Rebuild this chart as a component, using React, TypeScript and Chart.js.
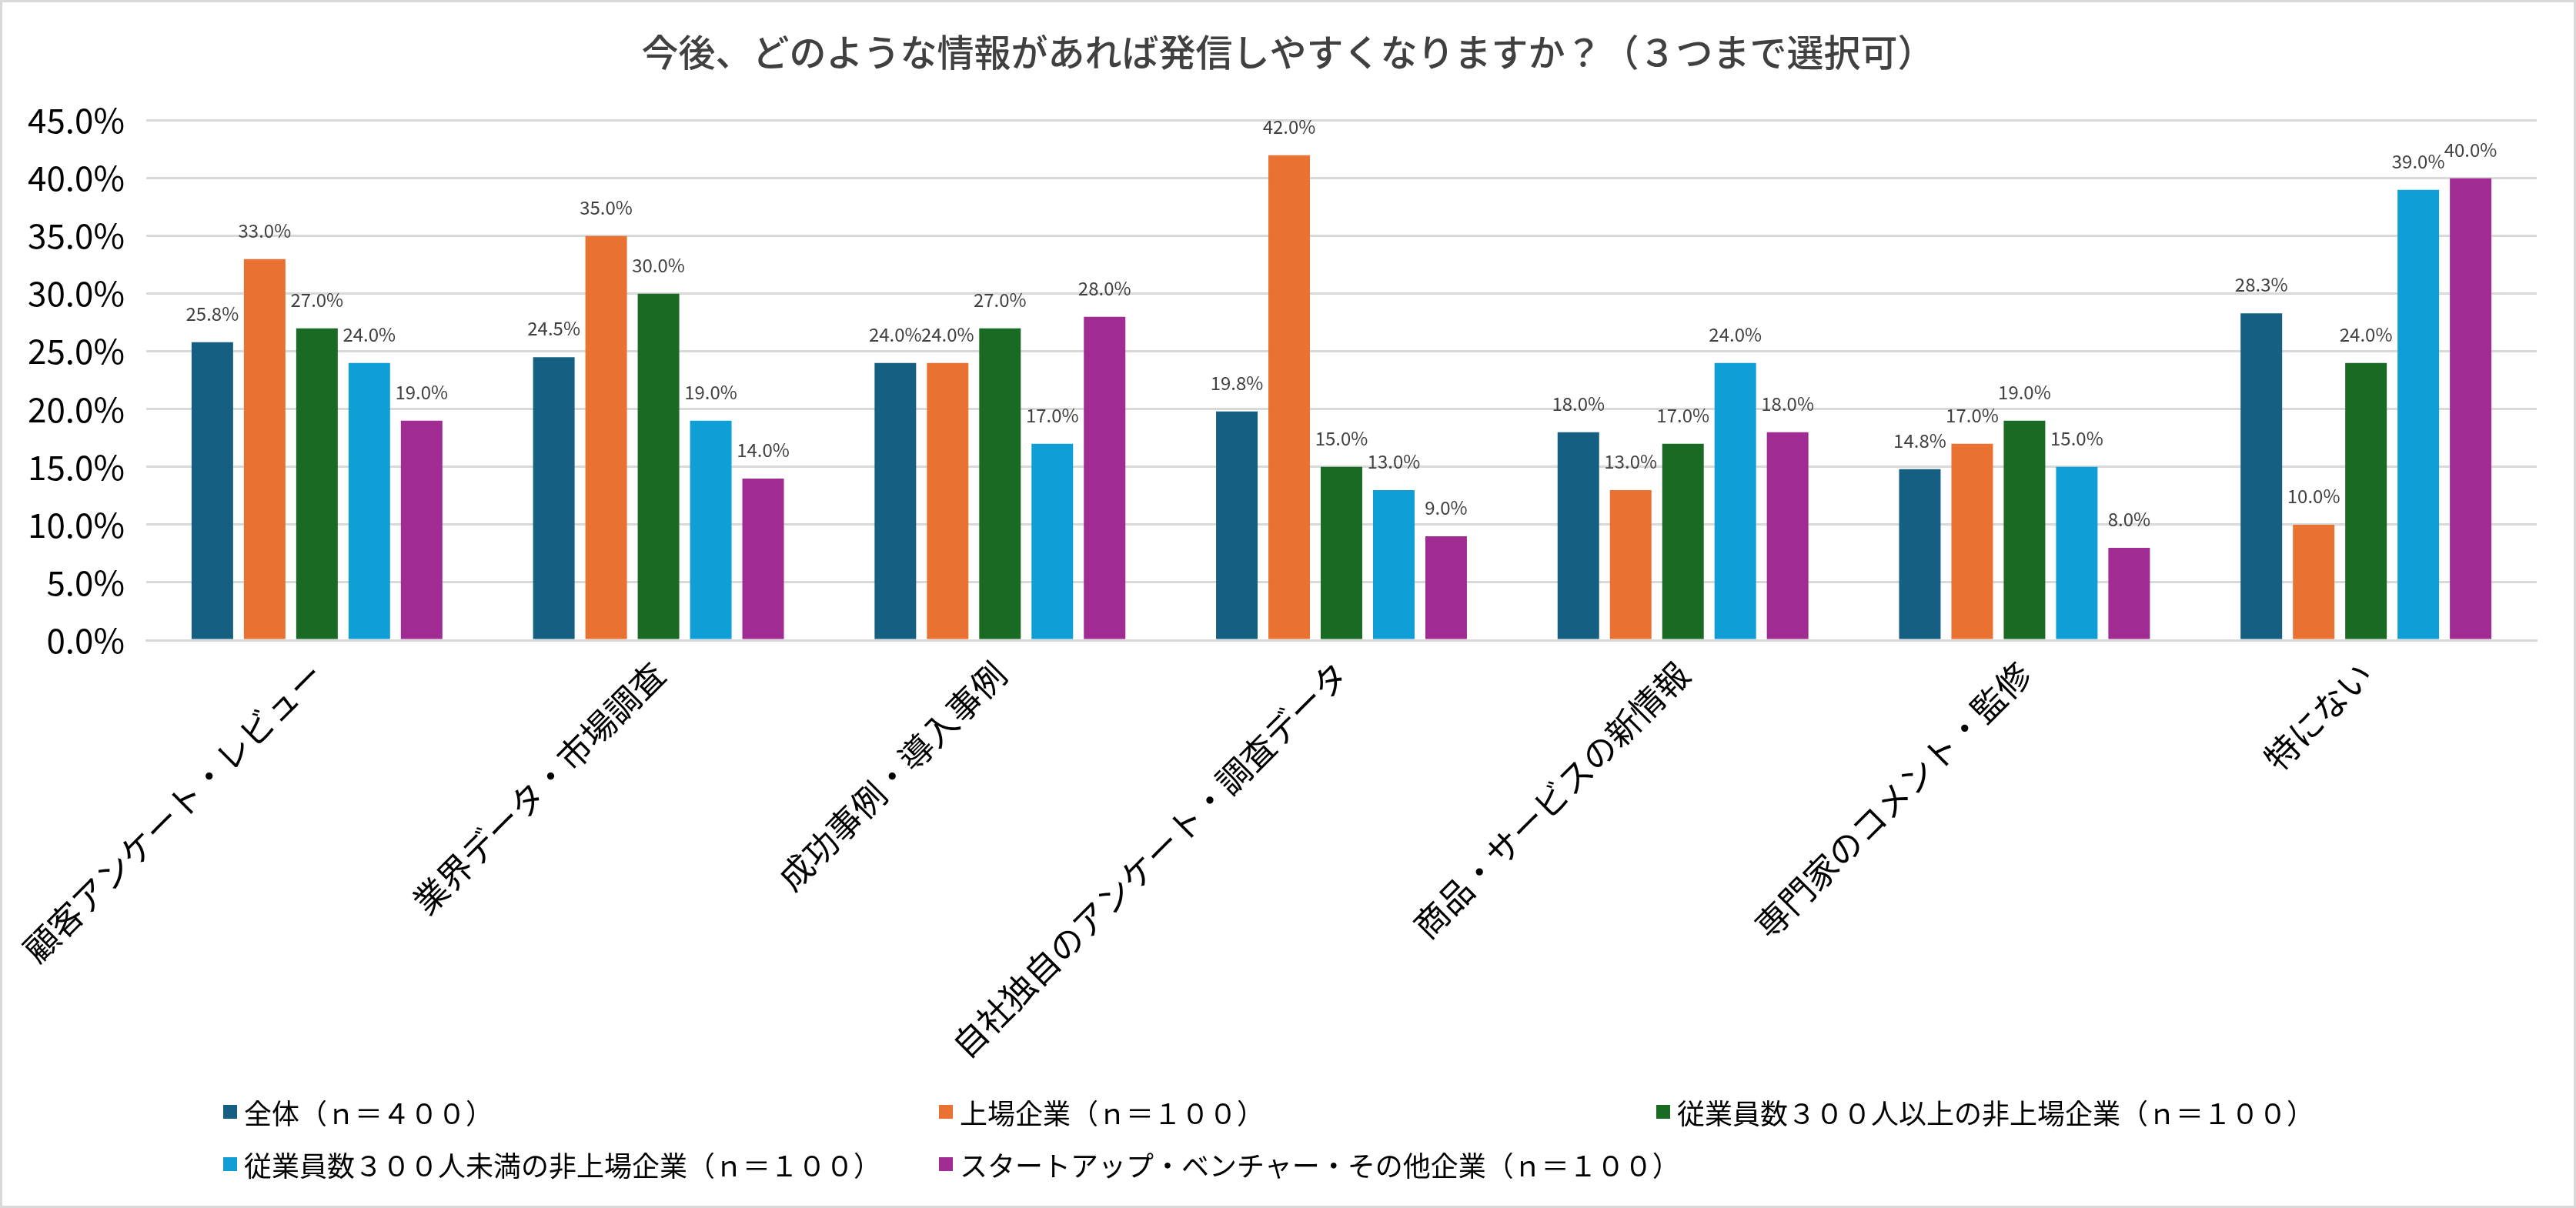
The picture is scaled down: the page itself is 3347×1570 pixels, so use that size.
import React, { useEffect, useRef } from "react";
import { Chart, registerables } from "chart.js";

Chart.register(...registerables);

const FONT = '"Noto Sans CJK JP", "Noto Sans", sans-serif';

const titleText =
  "今後、どのような情報があれば発信しやすくなりますか？（３つまで選択可）";

const categories = [
  "顧客アンケート・レビュー",
  "業界データ・市場調査",
  "成功事例・導入事例",
  "自社独自のアンケート・調査データ",
  "商品・サービスの新情報",
  "専門家のコメント・監修",
  "特にない",
];

const seriesNames = [
  "全体（ｎ＝４００）",
  "上場企業（ｎ＝１００）",
  "従業員数３００人以上の非上場企業（ｎ＝１００）",
  "従業員数３００人未満の非上場企業（ｎ＝１００）",
  "スタートアップ・ベンチャー・その他企業（ｎ＝１００）",
];

const seriesColors = ["#156082", "#E97132", "#196B24", "#0F9ED5", "#A02B93"];

// values in %
const allCompanies = [25.8, 24.5, 24.0, 19.8, 18.0, 14.8, 28.3];
const listed = [33.0, 35.0, 24.0, 42.0, 13.0, 17.0, 10.0];
const unlisted300Plus = [27.0, 30.0, 27.0, 15.0, 17.0, 19.0, 24.0];
const unlistedUnder300 = [24.0, 19.0, 17.0, 13.0, 24.0, 15.0, 39.0];
const startups = [19.0, 14.0, 28.0, 9.0, 18.0, 8.0, 40.0];

const seriesValues = [
  allCompanies,
  listed,
  unlisted300Plus,
  unlistedUnder300,
  startups,
];

const yMax = 45;
const yStep = 5;

// legend grid (columns / rows in px)
const legendCols = [290, 1220, 2152];
const legendRows = [1445, 1513];

const valueLabels = {
  id: "valueLabels",
  afterDatasetsDraw(chart: Chart) {
    const { ctx } = chart;
    ctx.save();
    ctx.font = `24px ${FONT}`;
    ctx.fillStyle = "#404040";
    ctx.textAlign = "center";
    ctx.textBaseline = "middle";
    chart.data.datasets.forEach((ds, i) => {
      const meta = chart.getDatasetMeta(i);
      meta.data.forEach((bar: any, j: number) => {
        const v = ds.data[j] as number;
        ctx.fillText(`${v.toFixed(1)}%`, bar.x, bar.y - 37);
      });
    });
    ctx.restore();
  },
};

const App: React.FC = () => {
  const canvasRef = useRef<HTMLCanvasElement>(null);
  const chartRef = useRef<Chart | null>(null);

  useEffect(() => {
    document.body.style.margin = "0";
    if (!canvasRef.current) return;
    if (chartRef.current) chartRef.current.destroy();

    chartRef.current = new Chart(canvasRef.current, {
      type: "bar",
      data: {
        labels: categories,
        datasets: seriesNames.map((name, i) => ({
          label: name,
          data: seriesValues[i],
          backgroundColor: seriesColors[i],
          borderWidth: 0,
          categoryPercentage: 0.766,
          barPercentage: 0.794,
        })),
      },
      options: {
        responsive: true,
        maintainAspectRatio: false,
        animation: false,
        layout: { padding: 0 },
        plugins: {
          legend: { display: false },
          tooltip: { enabled: false },
          title: {
            display: true,
            text: titleText,
            color: "#404040",
            font: { family: FONT, size: 48, weight: 500, lineHeight: 1.2 },
            padding: { top: 39, bottom: 60 },
          },
        },
        scales: {
          x: {
            grid: { display: false },
            border: { display: true, color: "#D9D9D9", width: 3 },
            ticks: {
              color: "#000000",
              font: { family: FONT, size: 44 },
              minRotation: 45,
              maxRotation: 45,
              autoSkip: false,
              padding: 10,
            },
            afterFit: (scale: any) => {
              scale.height = 738;
            },
          },
          y: {
            min: 0,
            max: yMax,
            grid: { color: "#D9D9D9", lineWidth: 3, drawTicks: false },
            border: { display: false },
            ticks: {
              stepSize: yStep,
              color: "#000000",
              font: { family: FONT, size: 44 },
              padding: 28,
              callback: (v: any) => `${Number(v).toFixed(1)}%`,
            },
            afterFit: (scale: any) => {
              scale.width = 190;
            },
          },
          // empty right-hand axis: only keeps a margin on the right
          yRight: {
            position: "right",
            min: 0,
            max: yMax,
            grid: { display: false, drawTicks: false },
            border: { display: false },
            ticks: { display: false },
            afterFit: (scale: any) => {
              scale.width = 51;
            },
          },
        },
      },
      plugins: [valueLabels],
    });

    return () => {
      if (chartRef.current) {
        chartRef.current.destroy();
        chartRef.current = null;
      }
    };
  }, []);

  return (
    <div
      style={{
        position: "relative",
        width: 3347,
        height: 1570,
        background: "#ffffff",
        overflow: "hidden",
      }}
    >
      <canvas ref={canvasRef} />
      {seriesNames.map((name, i) => (
        <div
          key={name}
          style={{
            position: "absolute",
            left: legendCols[i % 3],
            top: legendRows[Math.floor(i / 3)] - 25,
            height: 50,
            display: "flex",
            alignItems: "center",
            fontFamily: FONT,
            fontSize: 36,
            color: "#000000",
            whiteSpace: "nowrap",
          }}
        >
          <span
            style={{
              display: "inline-block",
              width: 18,
              height: 18,
              background: seriesColors[i],
              marginRight: 9,
            }}
          />
          {name}
        </div>
      ))}
      <div
        style={{
          position: "absolute",
          inset: 0,
          border: "3px solid #D9D9D9",
          boxSizing: "border-box",
          pointerEvents: "none",
        }}
      />
    </div>
  );
};

export default App;
